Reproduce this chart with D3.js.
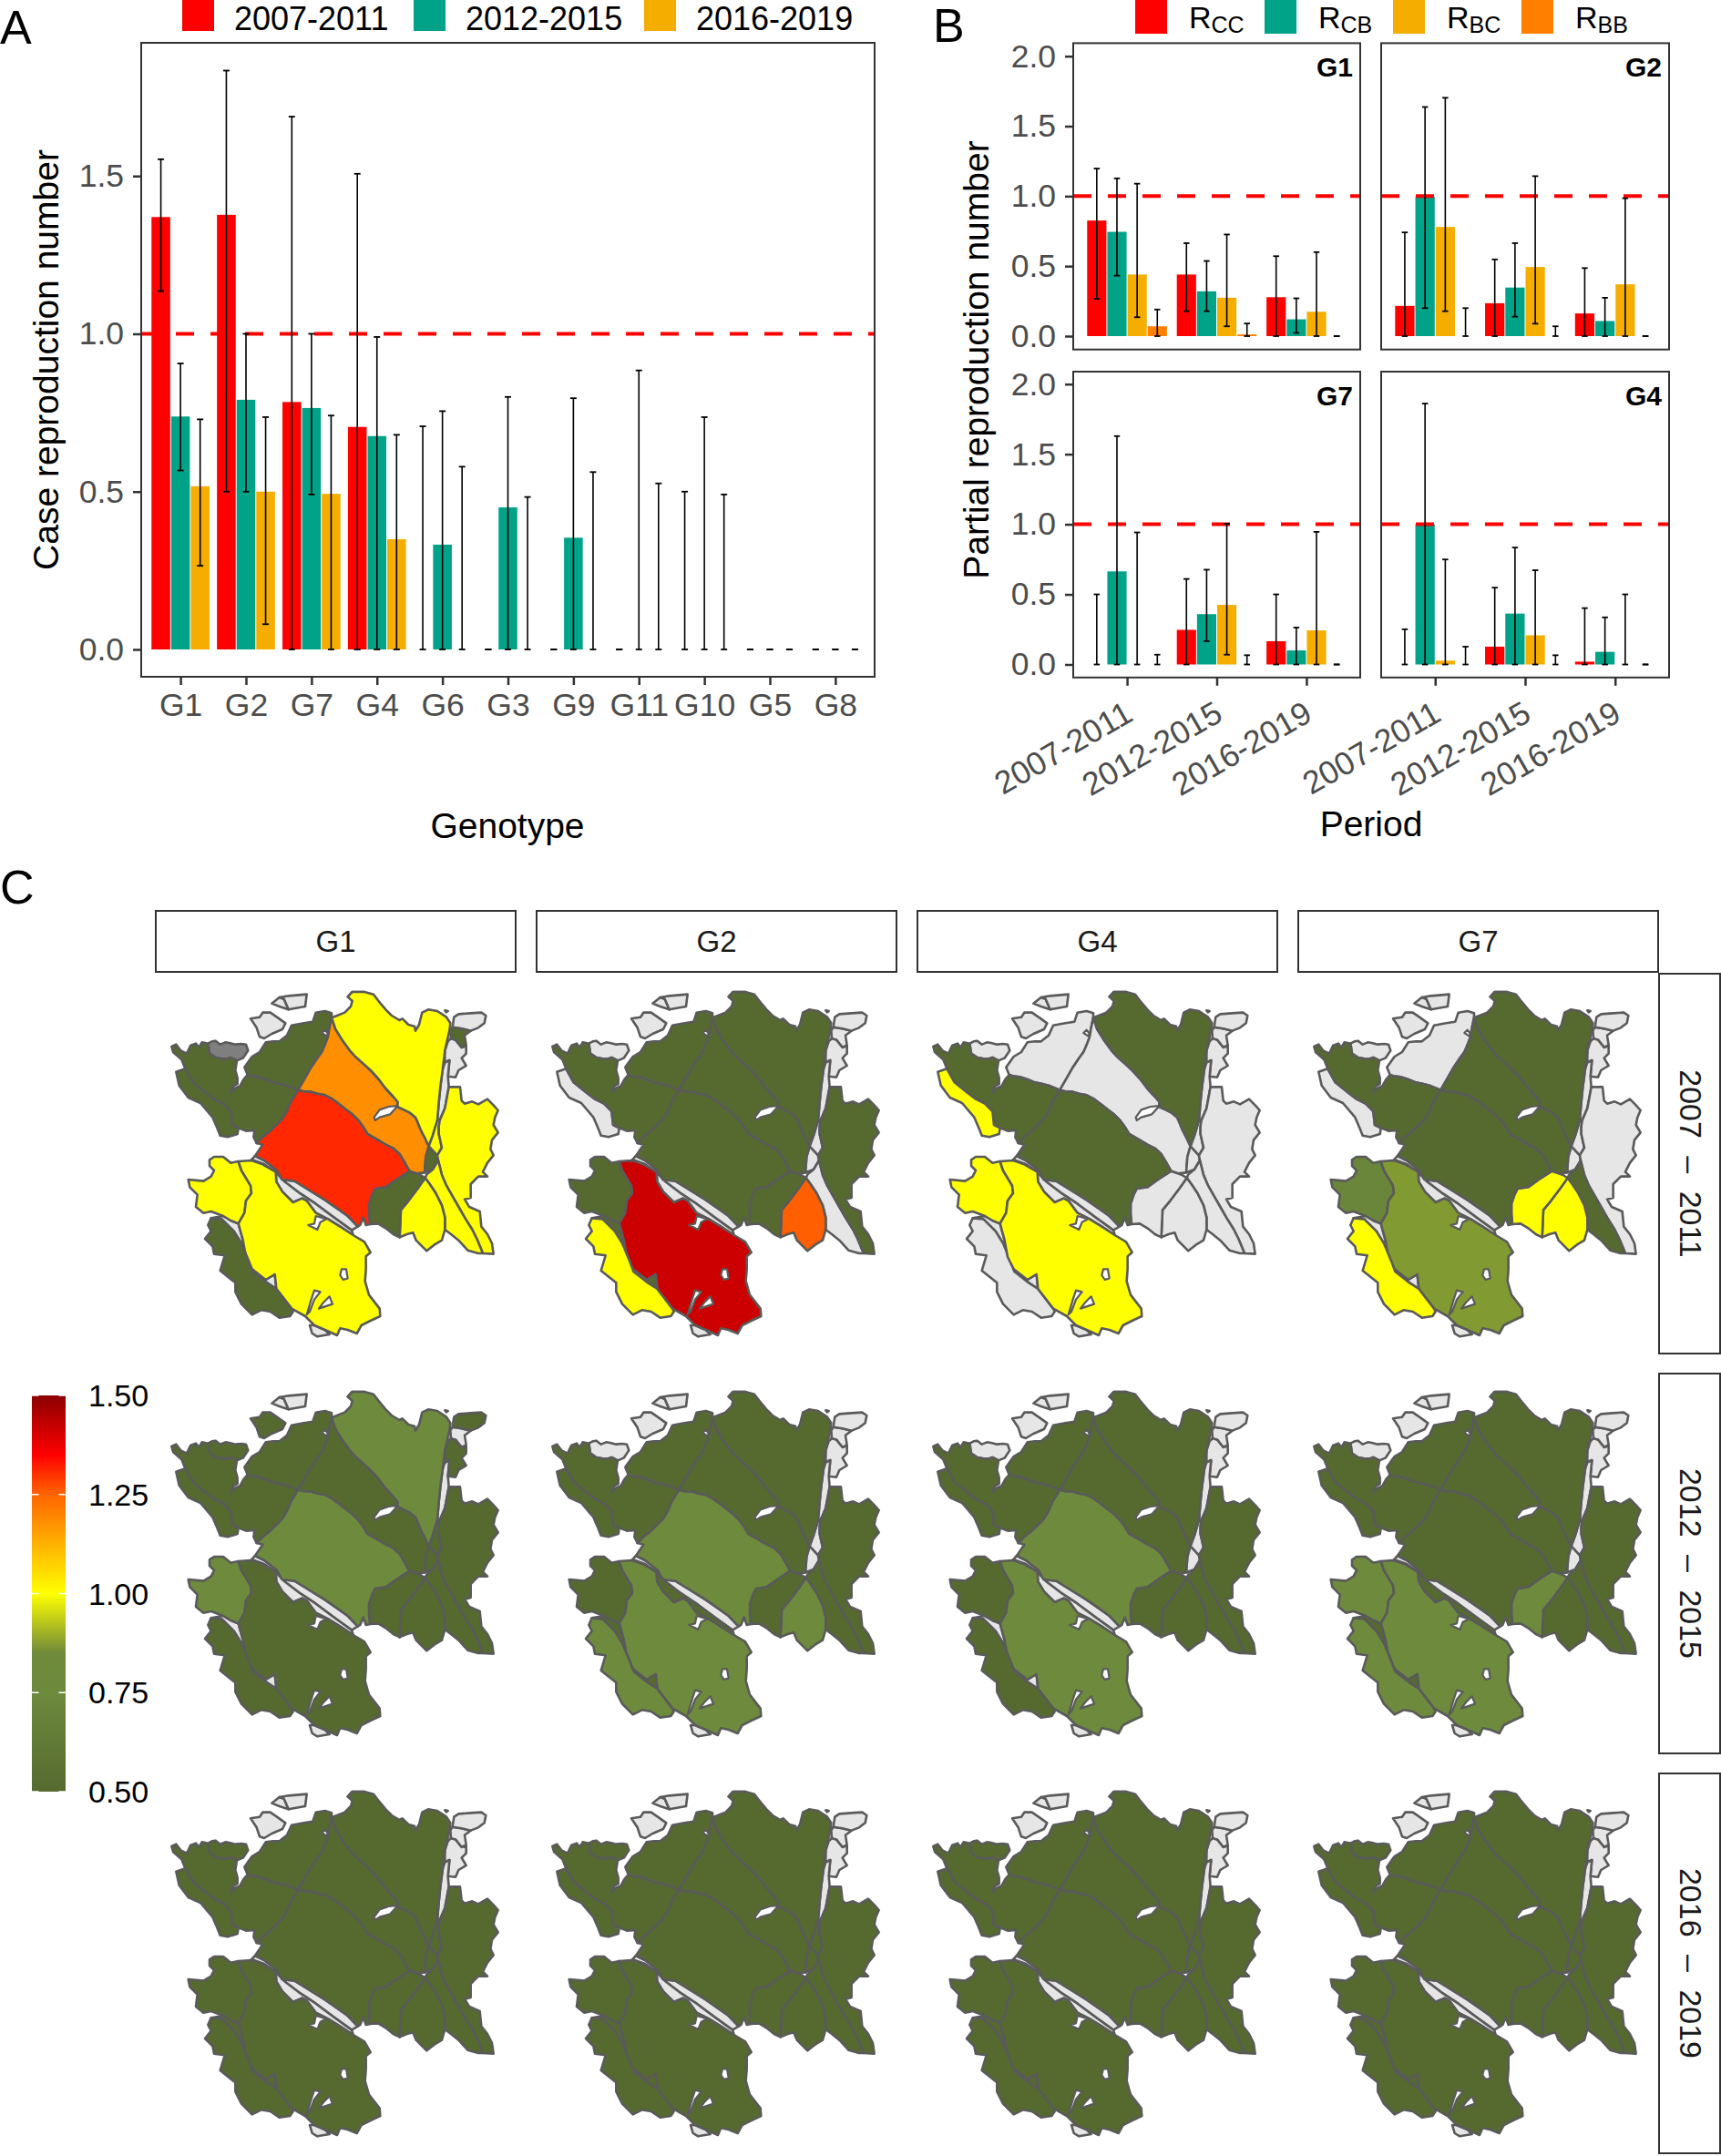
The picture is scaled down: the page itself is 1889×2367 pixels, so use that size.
<!DOCTYPE html>
<html><head><meta charset="utf-8">
<style>html,body{margin:0;padding:0;background:#fff}svg{display:block}text{font-family:"Liberation Sans",Arial,sans-serif}</style>
<script src="https://cdn.jsdelivr.net/npm/d3@7"></script>
</head><body><svg id="c" width="1889" height="2367"></svg>
<script>
// ---------- Panel A data ----------
const genotypesA = ["G1","G2","G7","G4","G6","G3","G9","G11","G10","G5","G8"];
const periods = ["2007-2011","2012-2015","2016-2019"];
const periodColors = ["#ff0000","#00a388","#f5ad00"];
const caseR = [[1.37,.738,.517],[1.377,.791,.5],[.784,.765,.493],[.705,.676,.349],[0,.332,0],[0,.45,0],[0,.354,0],[0,0,0],[0,0,0],[0,0,0],[0,0,0]];
const caseLo = [[1.135,.567,.265],[.5,.5,.08],[0,.491,0],[0,0,0],[0,0,0],[0,0,0],[0,0,0],[0,0,0],[0,0,0],[0,0,0],[0,0,0]];
const caseHi = [[1.553,.906,.729],[1.834,1,.736],[1.688,1,.741],[1.507,.99,.68],[.707,.755,.579],[0,.8,.483],[0,.796,.562],[0,.884,.526],[.5,.736,.491],[0,0,0],[0,0,0]];
// ---------- Panel B data ----------
const partialFacets = ["G1","G2","G7","G4"];
const partialTypes = ["CC","CB","BC","BB"];
const partialColors = ["#ff0000","#00a388","#f5ad00","#ff8000"];
const partialR = {
 G1:[[.826,.745,.44,.07],[.44,.32,.274,.012],[.278,.12,.174,0]],
 G2:[[.216,.996,.78,0],[.235,.347,.494,0],[.162,.108,.37,0]],
 G7:[[0,.664,0,0],[.247,.359,.425,0],[.166,.1,.243,0]],
 G4:[[0,1,.027,0],[.127,.363,.208,0],[.02,.09,0,0]]};
const partialLo = {
 G1:[[.266,.432,.135,0],[.178,.178,.07,0],[0,.023,0,0]],
 G2:[[0,.2,.178,0],[0,.139,.089,0],[0,0,0,0]],
 G7:[[0,0,0,0],[0,.166,.07,0],[0,0,0,0]],
 G4:[[0,0,0,0],[0,0,0,0],[0,0,0,0]]};
const partialHi = {
 G1:[[1.197,1.127,1.089,.19],[.664,.537,.726,.09],[.571,.27,.6,0]],
 G2:[[.741,1.637,1.703,.2],[.548,.664,1.143,.07],[.486,.274,.985,0]],
 G7:[[.5,1.629,.942,.07],[.61,.676,1.004,.066],[.5,.263,.946,0]],
 G4:[[.251,1.861,.749,.127],[.548,.834,.672,.066],[.402,.336,.5,0]]};
// ---------- Panel C: map geometry in map units, shared borders kept once ----------
const eBD=[[335,360],[350,365],[370,367],[395,375],[420,385],[445,390],[470,397],[502,410]];
const eDE=[[502,410],[525,370],[545,335],[565,305],[580,285],[590,262],[600,235],[605,205],[612,172]];
const eEF=[[612,172],[625,210],[650,250],[672,280],[690,300],[715,322],[740,345],[765,372],[790,405],[815,432],[830,450],[828,465],[850,475],[870,485],[888,500],[895,515],[905,540],[920,570],[932,595]];
const eER=[[502,410],[520,415],[540,415],[565,422],[590,427],[615,440],[635,455],[660,475],[680,490],[700,510],[715,530],[730,555],[760,572],[790,590],[815,602],[835,620],[850,645],[868,677]];
const eBR=[[502,410],[490,430],[480,445],[465,480],[450,505],[430,525],[410,545],[385,565],[365,585]];
const eRQ=[[868,677],[845,692],[825,705],[790,730],[755,735],[745,755],[735,785],[735,820],[738,852]];
const eQP=[[920,700],[895,735],[865,775],[840,805],[838,850],[836,895]];
const eNP=[[920,700],[935,720],[955,750],[975,790],[985,830],[985,870]];
const eMN=[[963,642],[975,690],[990,725],[1010,760],[1030,795],[1050,830],[1075,870],[1090,900],[1110,948]];
const eST=[[305,645],[315,675],[345,725],[348,750],[330,775],[325,815],[305,850]];
const eFe=[[1003,190],[1000,215],[985,280],[978,340],[970,400],[965,450],[960,510],[945,560],[932,595]];
const rivN=[[348,640],[360,627],[390,642],[432,675],[448,705],[490,710],[535,738],[590,772],[630,800],[665,825],[698,860]];
const rivM=[[348,640],[390,655],[432,685],[455,710],[510,752],[560,785],[620,830],[678,872],[698,860]];
const rivS=[[348,642],[385,655],[428,680],[430,712],[450,745],[485,780],[515,767],[530,775],[560,815],[600,835],[640,860],[683,888]];
const eTV=[[305,850],[320,905],[330,960],[350,1000],[395,1035],[425,1017],[430,1065],[480,1130]];
const eUV=[[215,832],[250,835],[290,875],[315,915],[340,975],[352,1008],[395,1042],[430,1065]];
const rev=a=>a.slice().reverse();
const regionShapes=[
 /*nwSmall*/[[205,257],[218,250],[230,248],[245,260],[262,253],[275,255],[295,260],[315,258],[330,260],[337,280],[320,305],[300,313],[280,303],[265,308],[250,307],[230,303],[210,290]],
 /*nwMain*/[[85,267],[100,260],[115,280],[135,290],[148,263],[165,257],[175,270],[185,253],[205,257],[210,290],[230,303],[250,307],[265,308],[280,303],[300,313],[295,345],[302,370],[302,390],[288,397],[280,418],[292,405],[310,397],[322,375],[335,360],...eBD.slice(1),...eBR.slice(1),[355,565],[358,543],[330,545],[305,535],[285,525],[280,480],[255,455],[225,440],[195,417],[155,385],[130,340],[118,310],[90,285]],
 /*wStrip*/[[100,350],[130,340],[155,385],[195,417],[225,440],[255,455],[280,480],[285,525],[305,535],[302,555],[270,565],[245,560],[235,535],[220,500],[180,453],[140,435],[110,395]],
 /*nCentralLeft*/[[335,360],[325,335],[350,300],[375,285],[395,253],[420,250],[440,250],[465,230],[480,197],[520,190],[550,185],[560,155],[590,150],[612,157],...rev(eDE),...rev(eBD).slice(1)],
 /*nCentral*/[...eDE,...eEF.slice(1),[922,630],[918,682],[890,685],...rev(eER)],
 /*ne*/[[612,172],[630,165],[655,155],[675,135],[680,117],[665,103],[680,87],[720,87],[750,95],[765,115],[790,145],[810,165],[835,180],[845,175],[865,195],[885,200],[888,215],[900,195],[910,155],[930,145],[960,150],[990,170],...eFe,...rev(eEF).slice(1)],
 /*neTip*/[[1010,203],[1040,208],[1070,215],[1050,230],[1055,262],[1040,270],[1020,245],[1005,240],[1003,215]],
 /*neIsland*/[[1015,170],[1030,160],[1070,157],[1105,155],[1120,165],[1115,190],[1095,205],[1070,215],[1040,208],[1010,203]],
 /*neStrip*/[[1005,240],[1020,245],[1040,270],[1055,265],[1055,290],[1040,305],[1055,330],[1030,345],[1020,368],[995,365],[1000,312],[985,320],[985,280],[995,250]],
 /*thinStrip*/[[1000,312],[995,365],[998,400],[985,470],[968,510],[960,510],[965,450],[970,400],[978,340],[985,320]],
 /*lensCore*/[[932,595],[960,625],[963,642],[945,672],[918,682],[922,630]],
 /*lensEdge*/[[968,510],[965,530],[965,555],[975,600],[960,625],[932,595],[945,560],[960,510]],
 /*east*/[[998,400],[1035,400],[1040,445],[1050,455],[1075,448],[1095,457],[1125,440],[1145,460],[1160,477],[1150,500],[1145,525],[1160,550],[1140,575],[1135,605],[1145,625],[1125,650],[1110,680],[1125,695],[1095,695],[1070,720],[1070,765],[1050,770],[1065,795],[1100,810],[1105,860],[1125,885],[1140,915],[1145,950],...rev(eMN),[960,625],[975,600],[965,555],[965,530],[968,510],[985,470]],
 /*seStrip*/[...eNP,[1005,885],[1030,905],[1060,938],[1095,948],...rev(eMN),[945,672],[925,688]],
 /*sSmall*/[...eQP,[860,885],[880,880],[890,905],[925,940],[950,920],[975,905],...rev(eNP).slice(0,-1)],
 /*sCentral*/[[868,677],[890,685],[905,690],...eQP,[815,885],[790,865],[765,850],...rev(eRQ).slice(0,-1)],
 /*center*/[...eER,...eRQ.slice(1),[725,855],[716,830],[706,855],...rev(rivN).slice(0,-1),[385,590],...rev(eBR)],
 /*swUpper*/[[210,640],[225,630],[255,630],[280,650],...eST,[280,840],[255,825],[215,810],[190,815],[165,795],[170,755],[145,730],[140,705],[190,710],[215,695],[225,675],[210,660]],
 /*swMain*/[[305,645],...rivS,[720,910],[740,945],[725,958],[725,1000],[722,1040],[735,1085],[770,1130],[772,1155],[740,1170],[710,1185],[695,1212],[665,1200],[640,1195],[630,1218],[590,1200],[555,1185],[525,1155],...rev(eTV),...rev(eST).slice(1,-1)],
 /*swThin*/[...eUV,...rev(eTV).slice(2),[280,840],[255,825]],
 /*swLower*/[[205,855],...eUV,[480,1130],[485,1140],[475,1155],[440,1160],[410,1140],[380,1135],[350,1150],[315,1115],[295,1075],[295,1045],[245,1005],[260,955],[225,950],[220,925],[195,900],[215,875]],
 /*river1*/[...rivN,...rev(rivM).slice(1,-1)],
 /*river2*/[...rivM.slice(0,-1),[683,888],...rev(rivS).slice(1)],
 /*nwIsland*/[[345,175],[375,170],[385,155],[410,155],[435,172],[460,190],[450,210],[415,225],[390,240],[375,235],[365,205]],
 /*nIslandA*/[[415,125],[440,105],[455,110],[470,145],[440,135]],
 /*nIslandB*/[[440,105],[470,100],[530,95],[525,135],[495,140],[470,145],[455,110]],
 /*topIslet*/[[665,103],[680,87],[720,87],[700,98],[680,100]],
 /*sIsland*/[[540,1185],[555,1185],[590,1200],[605,1215],[565,1222],[548,1212]],
 /*dot*/[[985,148],[995,150],[990,154]]
];
const mapHoles=[
 [[752,500],[770,475],[800,465],[830,462],[805,490],[770,500],[755,510]],
 [[560,825],[555,850],[535,855],[565,870],[575,845],[595,835]],
 [[645,1000],[660,1000],[665,1030],[650,1035],[640,1020]],
 [[555,1070],[575,1075],[555,1100],[540,1140],[530,1150],[545,1100]],
 [[605,1090],[615,1115],[570,1130],[585,1110]],
 [[580,222],[590,212],[600,225],[595,232]]
];
const _=null, NA=NaN; // _ no cases, NA undefined
const mapCols=["G1","G2","G4","G7"];
const mapRows=["2007 \u2013 2011","2012 \u2013 2015","2016 \u2013 2019"];
const mapG1P1=[NA,.5,.5,.5,1.18,1,.5,_,_,_,.5,1,1,1,1,.5,1.31,1,1,_,.5,_,_,_,_,_,_,_,_];
const mapG2P1=[_,.5,_,.5,.5,.5,_,_,_,_,_,_,.5,_,1.255,.5,.5,.5,1.416,.5,1,_,_,_,_,_,_,_,_];
const mapG4P1=[_,.5,1,_,_,.5,_,_,_,_,_,_,_,_,_,_,.5,1,1,_,_,_,_,_,_,_,_,_,_];
const mapG7P1=[_,.5,_,_,.5,.5,_,_,_,_,_,_,_,.5,1,1,.5,.72,.87,_,1,_,_,_,_,_,_,_,_];
const mapG1P2=[.5,.5,.5,.5,.5,.75,_,.5,.5,_,.5,.5,.5,.5,.5,.5,.75,.75,.5,_,.5,_,_,.5,_,_,_,_,_];
const mapG2P2=[_,.5,.5,.5,.5,.5,_,_,_,_,_,_,.5,.5,.75,.5,.75,.5,.75,.5,.75,_,.5,_,_,_,_,_,_];
const mapG4P2=[_,.5,.5,.5,.5,.5,_,_,_,_,_,_,.5,.5,.5,.5,.75,.5,.75,_,.5,_,_,_,_,_,_,_,_];
const mapG7P2=[_,.5,.5,.5,.5,.5,_,_,_,_,_,_,.5,.5,.5,.75,.5,.75,.75,.5,.75,_,.5,_,_,_,_,_,_];
const mapP3=[.5,.5,.5,.5,.5,.5,_,_,_,_,.5,.5,.5,.5,.5,.5,.5,.5,.5,.5,.5,_,_,_,_,_,_,_,_];
const mapValues=[[mapG1P1,mapG1P2,mapP3],[mapG2P1,mapG2P2,mapP3],[mapG4P1,mapG4P2,mapP3],[mapG7P1,mapG7P2,mapP3]];
const colorStops=[.5,.75,.85,1,1.25,1.35,1.5];
const colorRange=["#566a30","#6d8a3d","#6f8a3a","#ffff00","#ff6400","#ff0000","#8b0000"];
const colorTicks=[.5,.75,1,1.25,1.5];

// ---------- helpers ----------
const svg=d3.select("#c");
const INK="#333333", TICK="#4d4d4d", TICKSIZE=35.5;
function frame(g,x,y,w,h){g.append("rect").attr("x",x).attr("y",y).attr("width",w).attr("height",h).attr("fill","none").attr("stroke",INK).attr("stroke-width",2);}
function styleAxis(a,size){a.select(".domain").remove();a.selectAll(".tick line").attr("stroke",INK).attr("stroke-width",2.5);a.selectAll(".tick text").attr("fill",TICK).attr("font-size",size);}
function label(t,x,y,size,opt={}){const e=svg.append("text").attr("x",x).attr("y",y).attr("font-size",size).attr("fill",opt.fill||"#000").attr("text-anchor",opt.anchor||"middle").text(t);if(opt.rot!=null)e.attr("transform",`rotate(${opt.rot} ${x} ${y})`);if(opt.weight)e.attr("font-weight",opt.weight);return e;}
function bars(g,cx,inner,vals,y,colors){
  vals.forEach((v,i)=>{
    if(v>0) g.append("rect").attr("x",cx+inner(i)+.5).attr("width",inner.bandwidth()-1).attr("y",y(v)).attr("height",y(0)-y(v)).attr("fill",colors[i]);
  });
}
function errs(g,cx,inner,lo,hi,y,capW){
  lo.forEach((l,i)=>{
    const xc=cx+inner(i)+inner.bandwidth()/2,h=hi[i];
    if(h>l) g.append("line").attr("x1",xc).attr("x2",xc).attr("y1",y(l)).attr("y2",y(h)).attr("stroke","#000").attr("stroke-width",1.6);
    [l,h].forEach(val=>g.append("line").attr("x1",xc-capW/2).attr("x2",xc+capW/2).attr("y1",y(val)).attr("y2",y(val)).attr("stroke","#000").attr("stroke-width",1.8));
  });
}
function refLine(g,x0,x1,y){g.append("line").attr("x1",x0).attr("x2",x1).attr("y1",y).attr("y2",y).attr("stroke","#ff0000").attr("stroke-width",4).attr("stroke-dasharray","20 18");}

// ---------- Panel A ----------
const A={l:155,r:960,t:47,b:743};
const gA=svg.append("g");
const xA=d3.scalePoint().domain(genotypesA).range([A.l,A.r]).padding(.6);
const yA=d3.scaleLinear().domain([-.0866,1.922]).range([A.b,A.t]);
const innerA=d3.scaleBand().domain(d3.range(3)).range([-.45*xA.step(),.45*xA.step()]);
genotypesA.forEach((g,i)=>bars(gA,xA(g),innerA,caseR[i],yA,periodColors));
refLine(gA,A.l,A.r,yA(1));
genotypesA.forEach((g,i)=>errs(gA,xA(g),innerA,caseLo[i],caseHi[i],yA,7));
frame(gA,A.l,A.t,A.r-A.l,A.b-A.t);
styleAxis(gA.append("g").attr("transform",`translate(${A.l},0)`).call(d3.axisLeft(yA).tickValues([0,.5,1,1.5]).tickFormat(d3.format(".1f")).tickSize(9).tickPadding(10)),TICKSIZE);
styleAxis(gA.append("g").attr("transform",`translate(0,${A.b})`).call(d3.axisBottom(xA).tickSize(9).tickPadding(9)),TICKSIZE);
label("Case reproduction number",54,395,39,{rot:-90}).attr("dominant-baseline","middle");
label("Genotype",557,920,39);
label("A",0,48,52,{anchor:"start"});
const legA=[200,454,707];
periods.forEach((p,i)=>{
  svg.append("rect").attr("x",legA[i]).attr("y",0).attr("width",35).attr("height",34).attr("fill",periodColors[i]);
  label(p,legA[i]+57,33,36,{anchor:"start"});
});

// ---------- Panel B ----------
const cellX=[[1178,1493],[1516,1832]], cellY=[[47.4,383.7],[408,743.8]];
const zeroY=[369,729.5], twoY=[61.7,421.7];
partialFacets.forEach((f,k)=>{
  const c=k%2,r=k>>1;
  const [l,rr]=cellX[c],[t,b]=cellY[r];
  const g=svg.append("g");
  const x=d3.scalePoint().domain(periods).range([l,rr]).padding(.6);
  const y=d3.scaleLinear().domain([0,2]).range([zeroY[r],twoY[r]]);
  const inner=d3.scaleBand().domain(d3.range(4)).range([-.45*x.step(),.45*x.step()]);
  periods.forEach((p,i)=>bars(g,x(p),inner,partialR[f][i],y,partialColors));
  refLine(g,l,rr,y(1));
  periods.forEach((p,i)=>errs(g,x(p),inner,partialLo[f][i],partialHi[f][i],y,6.5));
  frame(g,l,t,rr-l,b-t);
  label(f,rr-8,t+37,30,{anchor:"end",weight:"bold"});
  if(c===0) styleAxis(g.append("g").attr("transform",`translate(${l},0)`).call(d3.axisLeft(y).tickValues([0,.5,1,1.5,2]).tickFormat(d3.format(".1f")).tickSize(9).tickPadding(10)),TICKSIZE);
  if(r===1){
    const ax=g.append("g").attr("transform",`translate(0,${b})`).call(d3.axisBottom(x).tickSize(9));
    styleAxis(ax,TICKSIZE);
    ax.selectAll(".tick text").attr("text-anchor","end").attr("dy",0).attr("y",0).attr("transform","translate(8,46) rotate(-30)");
  }
});
label("Partial reproduction number",1075,395,39,{rot:-90}).attr("dominant-baseline","middle");
label("Period",1505,918,39);
label("B",1024,46,52,{anchor:"start"});
const legB=[1246,1388,1529,1670];
partialTypes.forEach((p,i)=>{
  svg.append("rect").attr("x",legB[i]).attr("y",0).attr("width",35).attr("height",37).attr("fill",partialColors[i]);
  const t=svg.append("text").attr("x",legB[i]+59).attr("y",31).attr("font-size",34).attr("fill","#000");
  t.append("tspan").text("R");
  t.append("tspan").attr("font-size",25).attr("dy",5).text(p);
});

// ---------- Panel C ----------
label("C",0,992,52,{anchor:"start"});
const colorScale=d3.scaleLinear().domain(colorStops).range(colorRange).clamp(true);
const fillFor=v=>v===null?"#e6e6e6":Number.isNaN(v)?"#7f7f7f":colorScale(v);
const colX=d3.scalePoint().domain(mapCols).range([160,160+418*3]);
const rowY=d3.scalePoint().domain(mapRows).range([1060,1060+439*2]);
mapCols.forEach((c,ci)=>{
  const sx=colX(c);
  svg.append("rect").attr("x",sx+11).attr("y",1000).attr("width",395).attr("height",67).attr("fill","#fff").attr("stroke",INK).attr("stroke-width",2);
  label(c,sx+11+197.5,1045,33,{fill:"#1a1a1a"});
  mapRows.forEach((rw,ri)=>{
    const x=d3.scaleLinear().domain([0,1260]).range([sx,sx+420]);
    const y=d3.scaleLinear().domain([0,1260]).range([rowY(rw),rowY(rw)+420]);
    const path=d3.line().x(d=>x(d[0])).y(d=>y(d[1])).curve(d3.curveLinearClosed);
    const g=svg.append("g");
    const vals=mapValues[ci][ri];
    const order=d3.range(regionShapes.length).sort((a,b)=>(vals[a]===null?0:1)-(vals[b]===null?0:1));
    g.selectAll("path.r").data(order).join("path").attr("class","r").attr("d",i=>path(regionShapes[i])).attr("fill",i=>fillFor(vals[i])).attr("stroke","#5a5a5a").attr("stroke-width",2.6).attr("stroke-linejoin","round");
    g.selectAll("path.h").data(mapHoles).join("path").attr("class","h").attr("d",path).attr("fill","#fff").attr("stroke","#5a5a5a").attr("stroke-width",2.2).attr("stroke-linejoin","round");
  });
});
mapRows.forEach(rw=>{
  const top=rowY(rw)+9;
  svg.append("rect").attr("x",1821).attr("y",top).attr("width",67).attr("height",417).attr("fill","#fff").attr("stroke",INK).attr("stroke-width",2);
  label(rw,1853,top+208.5,34,{rot:90,fill:"#1a1a1a"}).attr("dominant-baseline","middle").attr("word-spacing",10);
});
// colour bar
const barY=d3.scaleLinear().domain([.5,1.5]).range([1967,1532]);
const defs=svg.append("defs");
const grad=defs.append("linearGradient").attr("id","cb").attr("x1",0).attr("x2",0).attr("y1",1).attr("y2",0);
colorStops.forEach((s,i)=>grad.append("stop").attr("offset",(s-.5)/1).attr("stop-color",colorRange[i]));
svg.append("rect").attr("x",35).attr("y",1532).attr("width",37).attr("height",435).attr("fill","url(#cb)");
colorTicks.forEach(t=>{
  [[35,42.5],[64.5,72]].forEach(([a,b])=>svg.append("line").attr("x1",a).attr("x2",b).attr("y1",barY(t)).attr("y2",barY(t)).attr("stroke","#fff").attr("stroke-width",1.5));
  label(t.toFixed(2),97,barY(t)+12,34,{anchor:"start"});
});
</script></body></html>
